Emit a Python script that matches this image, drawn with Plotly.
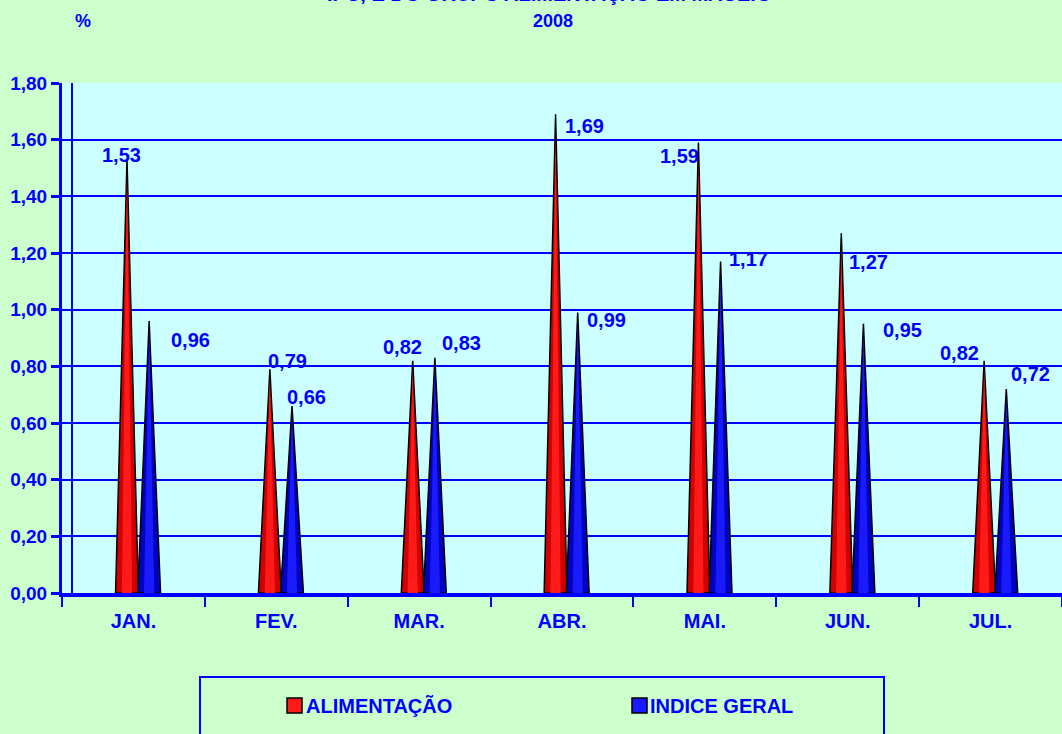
import plotly.graph_objects as go

# ---- data ----
months = ["JAN.", "FEV.", "MAR.", "ABR.", "MAI.", "JUN.", "JUL."]
series_names = ["ALIMENTAÇÃO", "INDICE GERAL"]
alimentacao = [1.53, 0.79, 0.82, 1.69, 1.59, 1.27, 0.82]
indice_geral = [0.96, 0.66, 0.83, 0.99, 1.17, 0.95, 0.72]
y_ticks = [0.0, 0.2, 0.4, 0.6, 0.8, 1.0, 1.2, 1.4, 1.6, 1.8]
title_text = "IPC, E DO GRUPO ALIMENTAÇÃO EM MACEIÓ"
subtitle_text = "2008"
unit_text = "%"

# ---- style ----
BLUE = "#0000FF"
BG = "#CCFFCC"
PLOT_BG = "#CCFFFF"
FONT = "Liberation Sans, Arial, sans-serif"
series_style = [
    dict(outer="#D00000", inner="#FF1A1A", offset=0.455),
    dict(outer="#0000C0", inner="#1A1AFF", offset=0.61),
]
half_w = 0.08
# label pixel offsets relative to each peak (xshift, yshift)
label_offsets = [
    [(-6, 5), (18, 8), (-10, 14), (29, -12), (-19, -13), (27, -29), (-25, 8)],
    [(41, -19), (14, 9), (27, 15), (29, -7), (28, 3), (39, -6), (24, 15)],
]

fig = go.Figure()
annotations = []
all_series = [alimentacao, indice_geral]
for s, values in enumerate(all_series):
    st = series_style[s]
    for i, v in enumerate(values):
        c = i + st["offset"]
        fig.add_trace(go.Scatter(
            x=[c - half_w, c, c + half_w, c - half_w],
            y=[0, v, 0, 0],
            mode="lines", fill="toself", fillcolor=st["outer"],
            line=dict(color="black", width=1.5),
            hoverinfo="skip", showlegend=False))
        fig.add_trace(go.Scatter(
            x=[c - half_w * 0.45, c, c + half_w * 0.45, c - half_w * 0.45],
            y=[0, v * 0.97, 0, 0],
            mode="lines", fill="toself", fillcolor=st["inner"],
            line=dict(color="rgba(0,0,0,0)", width=0),
            hoverinfo="skip", showlegend=False))
        dx, dy = label_offsets[s][i]
        annotations.append(dict(
            x=c, y=v, xref="x", yref="y", showarrow=False,
            text=f"{v:.2f}".replace(".", ","),
            xshift=dx, yshift=dy, xanchor="center", yanchor="middle",
            font=dict(family=FONT, size=20, color=BLUE, weight="bold")))

# titles
annotations.append(dict(x=0.487, y=1.0, xref="paper", yref="paper", yshift=76,
                        text=title_text, showarrow=False, xanchor="center", yanchor="bottom",
                        font=dict(family=FONT, size=20, color=BLUE, weight="bold")))
annotations.append(dict(x=0.491, y=1.0, xref="paper", yref="paper", yshift=62,
                        text=subtitle_text, showarrow=False, xanchor="center", yanchor="middle",
                        font=dict(family=FONT, size=18, color=BLUE, weight="bold")))
annotations.append(dict(x=0.021, y=1.0, xref="paper", yref="paper", yshift=62,
                        text=unit_text, showarrow=False, xanchor="center", yanchor="middle",
                        font=dict(family=FONT, size=18, color=BLUE, weight="bold")))

shapes = [
    # back wall edge
    dict(type="line", xref="paper", yref="paper", x0=0.01, x1=0.01, y0=0, y1=1,
         line=dict(color=BLUE, width=2)),
    # legend box
    dict(type="rect", xref="paper", yref="paper", x0=0.138, x1=0.822, y0=-0.1647, y1=-0.40,
         line=dict(color=BLUE, width=2), fillcolor="rgba(0,0,0,0)"),
]
legend_pos = [(0.225, 0.242), (0.570, 0.586)]
for s, name in enumerate(series_names):
    sx, tx = legend_pos[s]
    shapes.append(dict(type="rect", xref="paper", yref="paper",
                       x0=sx, x1=sx + 0.015, y0=-0.2059, y1=-0.2353,
                       fillcolor=series_style[s]["inner"], line=dict(color="black", width=1.5)))
    annotations.append(dict(x=tx, y=-0.2206, xref="paper", yref="paper", text=name,
                            showarrow=False, xanchor="left", yanchor="middle",
                            font=dict(family=FONT, size=20, color=BLUE, weight="bold")))

fig.update_layout(
    width=1062, height=734,
    margin=dict(l=62, r=0, t=83, b=141, pad=0),
    paper_bgcolor=BG, plot_bgcolor=PLOT_BG,
    separators=",.",
    annotations=annotations, shapes=shapes,
    showlegend=False,
    xaxis=dict(range=[0, len(months)], tickmode="array",
               tickvals=[i + 0.5 for i in range(len(months))], ticktext=months,
               ticks="", showgrid=False, zeroline=False,
               showline=True, linecolor=BLUE, linewidth=4,
               ticklabelstandoff=7,
               tickfont=dict(family=FONT, size=20, color=BLUE, weight="bold"),
               minor=dict(tickmode="array", tickvals=list(range(len(months) + 1)),
                          ticks="outside", ticklen=10, tickwidth=2, tickcolor=BLUE, showgrid=False),
               fixedrange=True),
    yaxis=dict(range=[0, 1.8], tickmode="array", tickvals=y_ticks, tickformat=".2f",
               ticks="outside", ticklen=8, tickwidth=3, tickcolor=BLUE,
               showgrid=True, gridcolor=BLUE, gridwidth=2, zeroline=False,
               showline=True, linecolor=BLUE, linewidth=3,
               tickfont=dict(family=FONT, size=19, color=BLUE, weight="bold"),
               fixedrange=True),
)
fig.write_html(
    "out.html",
    config={"displayModeBar": False},
    post_script="document.body.style.margin='0';document.body.style.overflow='hidden';",
)
